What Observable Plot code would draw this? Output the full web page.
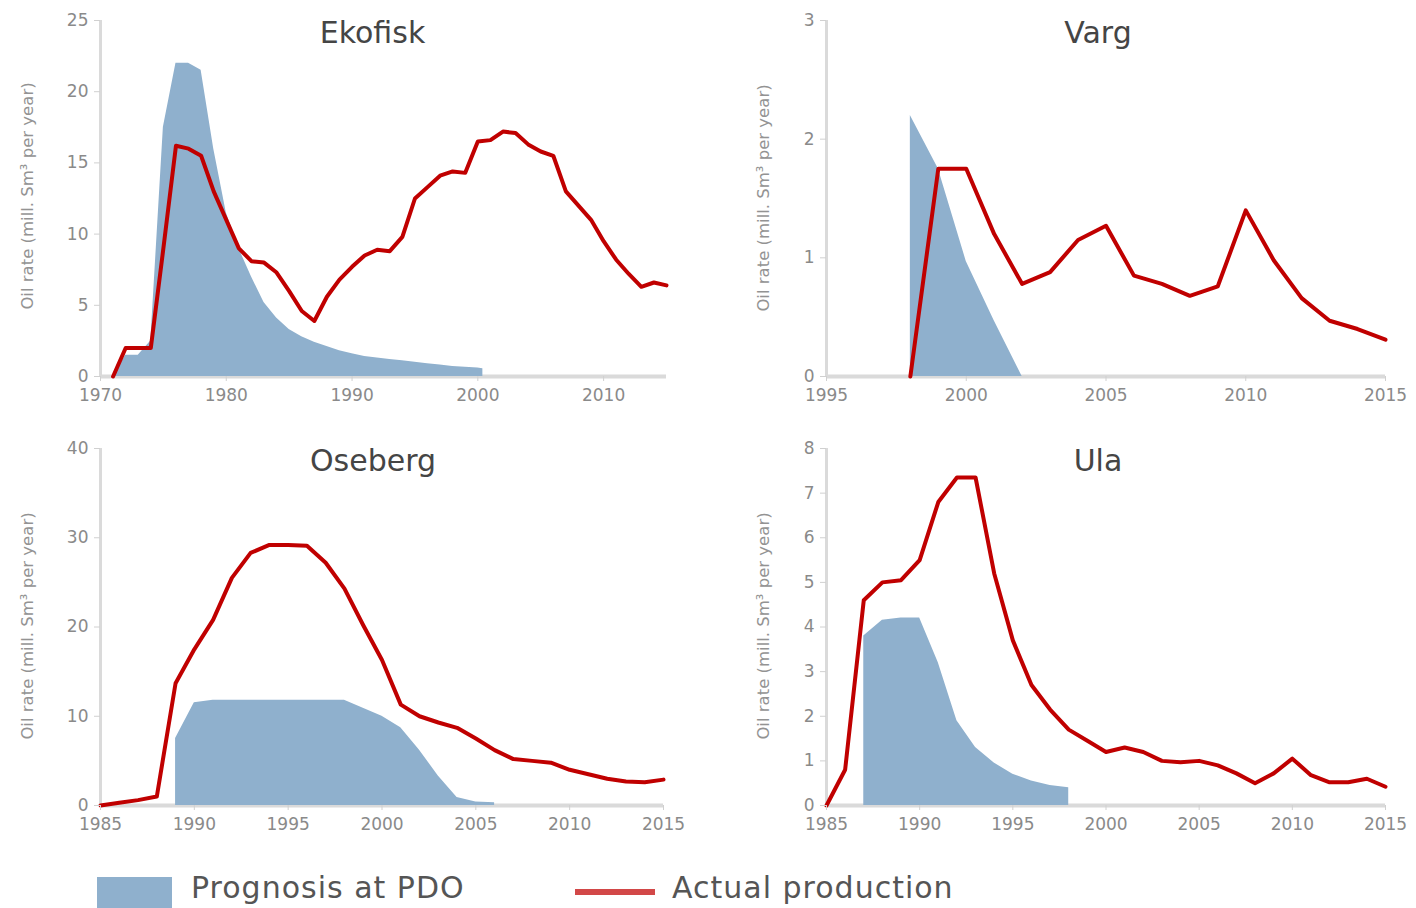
<!DOCTYPE html>
<html>
<head>
<meta charset="utf-8">
<script src="https://cdn.jsdelivr.net/npm/d3@7"></script>
<script src="https://cdn.jsdelivr.net/npm/@observablehq/plot@0.6"></script>
<style>
  html, body { margin: 0; padding: 0; background: #fff; }
  #page { position: relative; width: 1416px; height: 908px; overflow: hidden; font-family: "DejaVu Sans", sans-serif; }
  .panel { position: absolute; }
  .ylab { position: absolute; transform: translate(-50%, -50%) rotate(-90deg); white-space: nowrap; font-size: 16.5px; color: #939393; }
  .leg { position: absolute; font-size: 30px; letter-spacing: 1px; color: #555; white-space: nowrap; line-height: 1; }
</style>
</head>
<body>
<div id="page"></div>
<script>
// ---------- Data ----------
const ekofiskPrognosisYears = [1971,1972,1973,1974,1975,1976,1977,1978,1979,1980,1981,1982,1983,1984,1985,1986,1987,1988,1989,1990,1991,1992,1993,1994,1995,1996,1997,1998,1999,2000,2000.4];
const ekofiskPrognosis = [0,1.5,1.5,2.5,17.5,22,22,21.5,16,11.5,9,7,5.2,4.1,3.3,2.8,2.4,2.1,1.8,1.6,1.4,1.3,1.2,1.1,1.0,0.9,0.8,0.7,0.65,0.6,0.55];
const ekofiskActualYears = [1971,1972,1973,1974,1975,1976,1977,1978,1979,1980,1981,1982,1983,1984,1985,1986,1987,1988,1989,1990,1991,1992,1993,1994,1995,1996,1997,1998,1999,2000,2001,2002,2003,2004,2005,2006,2007,2008,2009,2010,2011,2012,2013,2014,2015];
const ekofiskActual = [0,2,2,2,9,16.2,16,15.5,13,11,9,8.1,8,7.3,6,4.6,3.9,5.6,6.8,7.7,8.5,8.9,8.8,9.8,12.5,13.3,14.1,14.4,14.3,16.5,16.6,17.2,17.1,16.3,15.8,15.5,13,12,11,9.5,8.2,7.2,6.3,6.6,6.4];

const vargPrognosisYears = [1998,1999,2000,2001,2002];
const vargPrognosis = [2.2,1.75,0.97,0.47,0];
const vargActualYears = [1998,1999,2000,2001,2002,2003,2004,2005,2006,2007,2008,2009,2010,2011,2012,2013,2014,2015];
const vargActual = [0,1.75,1.75,1.2,0.78,0.88,1.15,1.27,0.85,0.78,0.68,0.76,1.4,0.98,0.66,0.47,0.4,0.31];

const osebergPrognosisYears = [1989,1990,1991,1992,1993,1994,1995,1996,1997,1998,1999,2000,2001,2002,2003,2004,2005,2006];
const osebergPrognosis = [7.5,11.5,11.8,11.8,11.8,11.8,11.8,11.8,11.8,11.8,10.9,10.0,8.7,6.2,3.3,0.9,0.4,0.3];
const osebergActualYears = [1985,1986,1987,1988,1989,1990,1991,1992,1993,1994,1995,1996,1997,1998,1999,2000,2001,2002,2003,2004,2005,2006,2007,2008,2009,2010,2011,2012,2013,2014,2015];
const osebergActual = [0,0.3,0.6,1.0,13.7,17.5,20.8,25.5,28.3,29.2,29.2,29.1,27.2,24.3,20.2,16.3,11.3,10,9.3,8.7,7.5,6.2,5.2,5.0,4.8,4.0,3.5,3.0,2.7,2.6,2.9];

const ulaPrognosisYears = [1987,1988,1989,1990,1991,1992,1993,1994,1995,1996,1997,1998];
const ulaPrognosis = [3.8,4.15,4.2,4.2,3.2,1.9,1.3,0.95,0.7,0.55,0.45,0.4];
const ulaActualYears = [1985,1986,1987,1988,1989,1990,1991,1992,1993,1994,1995,1996,1997,1998,1999,2000,2001,2002,2003,2004,2005,2006,2007,2008,2009,2010,2011,2012,2013,2014,2015];
const ulaActual = [0,0.8,4.6,5.0,5.05,5.5,6.8,7.35,7.35,5.2,3.7,2.7,2.15,1.7,1.45,1.2,1.3,1.2,1.0,0.97,1.0,0.9,0.72,0.5,0.72,1.05,0.68,0.52,0.52,0.6,0.42];

const ekofiskXTicks = [1970,1980,1990,2000,2010];
const ekofiskYTicks = [0,5,10,15,20,25];
const vargXTicks = [1995,2000,2005,2010,2015];
const vargYTicks = [0,1,2,3];
const osebergXTicks = [1985,1990,1995,2000,2005,2010,2015];
const osebergYTicks = [0,10,20,30,40];
const ulaXTicks = [1985,1990,1995,2000,2005,2010,2015];
const ulaYTicks = [0,1,2,3,4,5,6,7,8];

const fieldNames = ["Ekofisk","Varg","Oseberg","Ula"];
const yAxisLabel = "Oil rate (mill. Sm³ per year)";
const legendLabels = ["Prognosis at PDO","Actual production"];

// ---------- Styles ----------
const BLUE = "#8fb0cd";
const RED = "#c00000";
const AXIS = "#dadada";

const page = document.getElementById("page");

function panel(cfg) {
  const chart = Plot.plot({
    width: 708, height: 420,
    marginLeft: cfg.ml, marginRight: cfg.mr, marginTop: cfg.mt, marginBottom: cfg.mb,
    style: {fontFamily: '"DejaVu Sans", sans-serif', background: "transparent"},
    x: {domain: cfg.xDomain},
    y: {domain: cfg.yDomain},
    marks: [
      Plot.ruleY([0], {stroke: AXIS, strokeWidth: 4}),
      Plot.ruleX([cfg.xDomain[0]], {stroke: AXIS, strokeWidth: 3}),
      Plot.areaY(cfg.progYears, {x: cfg.progYears, y: cfg.prog, fill: BLUE, curve: "linear"}),
      Plot.line(cfg.actYears, {x: cfg.actYears, y: cfg.act, stroke: RED, strokeWidth: 4, curve: "linear", strokeLinejoin: "round"}),
      Plot.axisX(cfg.xTicks, {tickFormat: d => `${d}`, tickSize: 5, tickPadding: 7, fontSize: 17, color: "#8a8a8a", stroke: "#d0d0d0", label: null}),
      Plot.axisY(cfg.yTicks, {tickFormat: d => `${d}`, tickSize: 6, tickPadding: 6, fontSize: 17, color: "#8a8a8a", stroke: "#d0d0d0", label: null}),
      Plot.text([cfg.title], {frameAnchor: "top", dx: cfg.tdx, dy: 13, fontSize: 30, fill: "#454545", lineAnchor: "middle"})
    ]
  });
  const div = document.createElement("div");
  div.className = "panel";
  div.style.left = cfg.left + "px";
  div.style.top = cfg.top + "px";
  div.appendChild(chart);
  page.appendChild(div);

  const lab = document.createElement("div");
  lab.className = "ylab";
  lab.textContent = yAxisLabel;
  lab.style.left = cfg.labX + "px";
  lab.style.top = cfg.labY + "px";
  page.appendChild(lab);
}

panel({left: 0, top: 0, ml: 100, mr: 42, mt: 20, mb: 44, xDomain: [1970, 2015], yDomain: [0, 25],
  progYears: ekofiskPrognosisYears, prog: ekofiskPrognosis, actYears: ekofiskActualYears, act: ekofiskActual,
  xTicks: ekofiskXTicks, yTicks: ekofiskYTicks, title: fieldNames[0], tdx: -11, labX: 27, labY: 196});
panel({left: 708, top: 0, ml: 118, mr: 31, mt: 20, mb: 44, xDomain: [1995, 2015], yDomain: [0, 3],
  progYears: vargPrognosisYears, prog: vargPrognosis, actYears: vargActualYears, act: vargActual,
  xTicks: vargXTicks, yTicks: vargYTicks, title: fieldNames[1], tdx: -8, labX: 763, labY: 198});
panel({left: 0, top: 420, ml: 100, mr: 45, mt: 28, mb: 35, xDomain: [1985, 2015], yDomain: [0, 40],
  progYears: osebergPrognosisYears, prog: osebergPrognosis, actYears: osebergActualYears, act: osebergActual,
  xTicks: osebergXTicks, yTicks: osebergYTicks, title: fieldNames[2], tdx: -9, labX: 27, labY: 626});
panel({left: 708, top: 420, ml: 118, mr: 31, mt: 28, mb: 35, xDomain: [1985, 2015], yDomain: [0, 8],
  progYears: ulaPrognosisYears, prog: ulaPrognosis, actYears: ulaActualYears, act: ulaActual,
  xTicks: ulaXTicks, yTicks: ulaYTicks, title: fieldNames[3], tdx: -8, labX: 763, labY: 626});

// ---------- Legend ----------
const sw = document.createElement("div");
Object.assign(sw.style, {position: "absolute", left: "97px", top: "877px", width: "75px", height: "40px", background: BLUE});
page.appendChild(sw);
const t1 = document.createElement("div");
t1.className = "leg"; t1.textContent = legendLabels[0];
t1.style.left = "191px"; t1.style.top = "873px";
page.appendChild(t1);
const ln = document.createElement("div");
Object.assign(ln.style, {position: "absolute", left: "575px", top: "889px", width: "80px", height: "6px", background: "#d24848"});
page.appendChild(ln);
const t2 = document.createElement("div");
t2.className = "leg"; t2.textContent = legendLabels[1];
t2.style.left = "672px"; t2.style.top = "873px";
page.appendChild(t2);
</script>
</body>
</html>
